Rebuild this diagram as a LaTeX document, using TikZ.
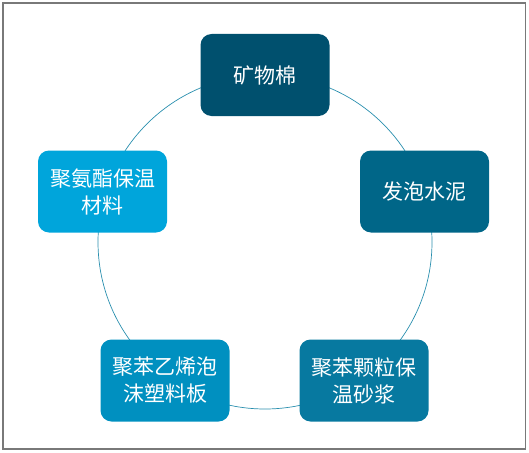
\documentclass[tikz,border=0pt]{standalone}
\usepackage{fontspec}
\newfontfamily\cjk{Noto Sans CJK SC}
\definecolor{cA}{HTML}{00506E}
\definecolor{cB}{HTML}{006688}
\definecolor{cC}{HTML}{0779A0}
\definecolor{cD}{HTML}{0090C0}
\definecolor{cE}{HTML}{00A5DB}
\definecolor{ring}{HTML}{2A8FAE}
\begin{document}
\begin{tikzpicture}[x=1pt,y=-1pt,
  item/.style={rounded corners=11pt, minimum width=129pt, minimum height=82pt,
    text=white, align=center, inner sep=2pt,
    font=\cjk\fontsize{21pt}{27pt}\selectfont}]
\useasboundingbox (0,0) rectangle (529,452);
\draw[gray!95!black, line width=1.3pt] (3,3) rectangle (525.5,449);
\node[draw=ring, line width=0.7pt, circle, minimum size=334pt, inner sep=0pt] (ring) at (265,242) {};
\node[item, fill=cA] (a) at (265,75) {矿物棉};
\node[item, fill=cB] (b) at (424.5,191.5) {发泡水泥};
\node[item, fill=cC] (c) at (364,380.5) {聚苯颗粒保\\温砂浆};
\node[item, fill=cD] (d) at (165,380.5) {聚苯乙烯泡\\沫塑料板};
\node[item, fill=cE] (e) at (102.5,191.5) {聚氨酯保温\\材料};
\end{tikzpicture}
\end{document}
